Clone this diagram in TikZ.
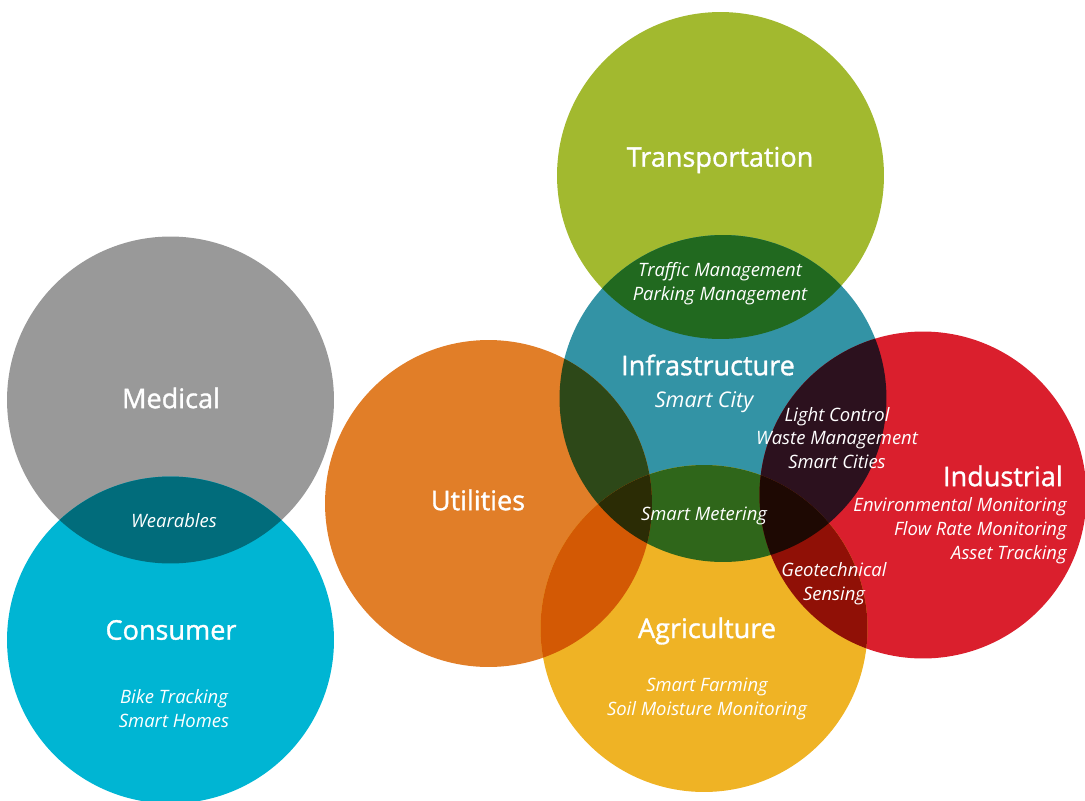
\documentclass[tikz,border=0pt]{standalone}
\usepackage{fontspec}
\setmainfont{Open Sans}
\newfontfamily\sectorfont[FakeBold=1.2]{Open Sans}
\usepackage{tikz}
\definecolor{transpcol}{HTML}{A2B92F}
\definecolor{infracol}{HTML}{3393A5}
\definecolor{medcol}{HTML}{999999}
\definecolor{conscol}{HTML}{00B5D3}
\definecolor{utilcol}{HTML}{E17E28}
\definecolor{indcol}{HTML}{DA1F2D}
\definecolor{agricol}{HTML}{EFB325}
\definecolor{transinfra}{HTML}{21691F}
\definecolor{medcons}{HTML}{016C7B}
\definecolor{utilinfra}{HTML}{2D4818}
\definecolor{infraind}{HTML}{2C111E}
\definecolor{agriinfra}{HTML}{2F661A}
\definecolor{utilagri}{HTML}{D35904}
\definecolor{indagri}{HTML}{901006}
\definecolor{utilinfraagri}{HTML}{2B2C05}
\definecolor{infraindagri}{HTML}{1E0903}
\tikzstyle{sector} = [text=white, font=\sectorfont\fontsize{15.4}{18}\selectfont, inner sep=0pt]
\tikzstyle{usecase} = [text=white, font=\itshape\fontsize{10.5}{13.6}\selectfont,
    align=center, inner sep=0pt]
\def\rad{3.27cm}
% lens of two circles
\newcommand{\lens}[3]{\begin{scope}\clip (#1) circle (\rad); \fill[#3] (#2) circle (\rad);\end{scope}}
% region of three circles
\newcommand{\tripl}[4]{\begin{scope}\clip (#1) circle (\rad); \clip (#2) circle (\rad); \fill[#4] (#3) circle (\rad);\end{scope}}

\begin{document}
\begin{tikzpicture}[x=0.02cm, y=-0.02cm]
                \useasboundingbox (0,0) rectangle (1085,801);
                \coordinate (transport) at (720.5,175.5);
                \coordinate (infra) at (723,398.5);
                \coordinate (medical) at (170.5,400);
                \coordinate (consumer) at (170.5,640);
                \coordinate (utility) at (488.5,503.5);
                \coordinate (industry) at (923,495);
                \coordinate (agri) at (704,628.5);
                % circles
                \fill[transpcol] (transport) circle (\rad);
                \fill[infracol] (infra) circle (\rad);
                \fill[medcol] (medical) circle (\rad);
                \fill[conscol] (consumer) circle (\rad);
                \fill[utilcol] (utility) circle (\rad);
                \fill[indcol] (industry) circle (\rad);
                \fill[agricol] (agri) circle (\rad);
                % overlaps
                \lens{transport}{infra}{transinfra}
                \lens{medical}{consumer}{medcons}
                \lens{utility}{infra}{utilinfra}
                \lens{infra}{industry}{infraind}
                \lens{agri}{infra}{agriinfra}
                \lens{utility}{agri}{utilagri}
                \lens{industry}{agri}{indagri}
                \tripl{utility}{infra}{agri}{utilinfraagri}
                \tripl{infra}{industry}{agri}{infraindagri}
                % labels
                \node[sector] (transportlbl) at (720,160) {Transportation};
                \node[usecase] (trafficlbl) at (720,284) {Traffic Management\\Parking Management};
                \node[sector] (infralbl) at (708,365) {Infrastructure};
                \node[usecase, font=\itshape\fontsize{12.3}{14}\selectfont] (citylbl) at (704,402) {Smart City};
                \node[usecase] (lightlbl) at (837,438) {Light Control\\Waste Management\\Smart Cities};
                \node[sector] (medicallbl) at (171,398) {Medical};
                \node[usecase] (wearlbl) at (174,521) {Wearables};
                \node[sector] (consumerlbl) at (171,630) {Consumer};
                \node[usecase] (homelbl) at (174,709) {Bike Tracking\\Smart Homes};
                \node[sector] (utilitylbl) at (478,500) {Utilities};
                \node[usecase] (meterlbl) at (704,516) {Smart Metering};
                \node[sector, anchor=east] (industrylbl) at (1063,476) {Industrial};
                \node[usecase, align=right, anchor=east] (envlbl) at (1067,531) {Environmental Monitoring\\Flow Rate Monitoring\\Asset Tracking};
                \node[usecase] (geolbl) at (834,584) {Geotechnical\\Sensing};
                \node[sector] (agrilbl) at (707,631) {Agriculture};
                \node[usecase] (farmlbl) at (707,698.5) {Smart Farming\\Soil Moisture Monitoring};
            \end{tikzpicture}
\end{document}
